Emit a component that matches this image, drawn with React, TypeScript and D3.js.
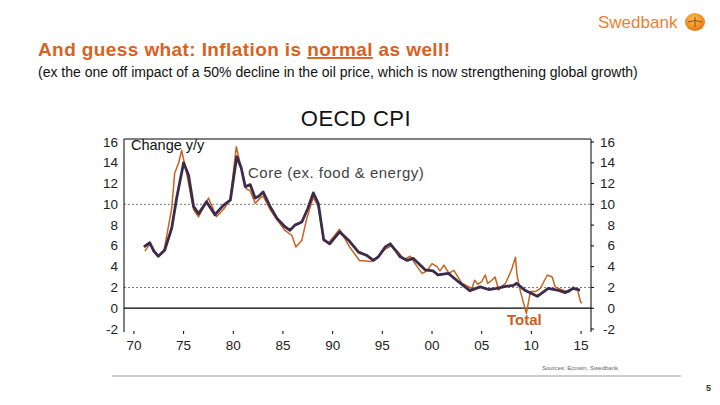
import * as d3 from "d3";
import React from "react";

// OECD CPI, change y/y
const coreYears = [
  1971.0, 1971.6, 1972.0, 1972.45, 1973.1, 1973.8, 1974.3, 1975.0, 1975.5, 1976.0,
  1976.5, 1977.3, 1978.15, 1979.0, 1979.7, 1980.35, 1980.8, 1981.2, 1981.7, 1982.2,
  1982.6, 1983.0, 1983.7, 1984.4, 1985.2, 1985.7, 1986.2, 1986.9, 1987.5, 1988.05,
  1988.55, 1989.1, 1989.7, 1990.7, 1991.6, 1992.6, 1993.4, 1994.1, 1994.6, 1995.3,
  1995.8, 1996.3, 1996.8, 1997.5, 1998.1, 1998.8, 1999.3, 2000.1, 2000.6, 2001.65,
  2002.65, 2003.8, 2004.85, 2005.7, 2006.5, 2007.4, 2008.2, 2008.5, 2009.4, 2010.6,
  2011.7, 2012.6, 2013.4, 2014.2, 2014.9,
];
const coreValues = [
  5.9, 6.3, 5.5, 5.0, 5.6, 7.7, 10.6, 14.0, 12.8, 9.8,
  9.1, 10.25, 9.0, 9.9, 10.4, 14.6, 13.5, 11.7, 11.9, 10.6,
  10.8, 11.2, 9.8, 8.65, 7.85, 7.5, 8.0, 8.3, 9.6, 11.1,
  10.1, 6.6, 6.2, 7.35, 6.55, 5.4, 5.1, 4.6, 4.95, 5.9,
  6.2, 5.6, 4.95, 4.6, 4.8, 4.15, 3.7, 3.6, 3.2, 3.35,
  2.55, 1.7, 2.05, 1.8, 1.9, 2.1, 2.2, 2.4, 1.7, 1.15,
  1.9, 1.75, 1.5, 1.9, 1.75,
];

const totalYears = [
  1971.1, 1971.6, 1972.45, 1973.0, 1973.4, 1973.8, 1974.1, 1974.5, 1974.8, 1975.3,
  1976.0, 1976.5, 1977.5, 1978.3, 1979.0, 1979.7, 1980.3, 1980.8, 1981.3, 1981.7,
  1982.2, 1982.6, 1983.0, 1983.7, 1984.4, 1985.2, 1985.9, 1986.3, 1986.9, 1987.4,
  1988.05, 1988.55, 1989.1, 1989.6, 1990.7, 1991.7, 1992.7, 1993.9, 1994.6, 1995.3,
  1995.9, 1996.6, 1997.2, 1997.8, 1998.5, 1999.0, 1999.5, 2000.0, 2000.5, 2000.8,
  2001.2, 2001.7, 2002.2, 2003.0, 2004.0, 2004.3, 2004.6, 2005.0, 2005.35, 2005.6,
  2005.85, 2006.35, 2006.7, 2007.0, 2007.4, 2008.0, 2008.4, 2008.55, 2008.9, 2009.5,
  2009.9, 2010.4, 2010.9, 2011.6, 2012.1, 2012.4, 2013.1, 2013.8, 2014.2, 2014.65,
  2014.95, 2015.1,
];
const totalValues = [
  5.5, 6.2, 5.0, 5.4, 7.5, 9.6, 13.0, 14.0, 15.2, 13.0,
  9.5, 8.8, 10.6, 8.8, 9.5, 10.5, 15.55, 13.5, 11.5, 11.3,
  10.1, 10.5, 10.8, 9.5, 8.5, 7.5, 7.0, 5.9, 6.55, 8.65,
  10.7, 9.8, 6.5, 6.3, 7.6, 5.9, 4.6, 4.5, 5.0, 5.7,
  6.0, 5.4, 4.7, 5.0, 4.0, 3.35, 3.6, 4.3, 4.0, 3.6,
  4.15, 3.35, 3.65, 2.4, 1.9, 2.7, 2.3, 2.55, 3.2, 2.4,
  2.55, 3.0, 1.75, 2.1, 2.4, 3.7, 4.9, 3.2, 1.6, -0.5,
  1.6, 1.6, 1.9, 3.2, 3.0, 2.05, 1.75, 1.55, 2.05, 1.75,
  0.6, 0.5,
];

const yTicks = [-2, 0, 2, 4, 6, 8, 10, 12, 14, 16];
const xTicks = [1970, 1975, 1980, 1985, 1990, 1995, 2000, 2005, 2010, 2015];
const gridValues = [10, 2];

const ORANGE = "#d9621c";
const TOTAL = "#c8621e";
const CORE = "#3c2c4c";
const FONT = "'Liberation Sans', Arial, sans-serif";

export default function App() {
  const left = 124;
  const right = 591;
  const top = 139;
  const x = d3.scaleLinear().domain([1969, 2016]).range([left, right]);
  const y = d3.scaleLinear().domain([-2, 16]).range([329, 142]);
  const axisBottom = 332;

  const line = d3
    .line<[number, number]>()
    .x((d) => x(d[0]))
    .y((d) => y(d[1]));

  const core = coreYears.map((yr, i) => [yr, coreValues[i]] as [number, number]);
  const total = totalYears.map((yr, i) => [yr, totalValues[i]] as [number, number]);

  return (
    <svg
      width={720}
      height={405}
      style={{ position: "absolute", left: 0, top: 0, background: "white" }}
      fontFamily={FONT}
    >
      <defs>
        <radialGradient id="logo" cx="45%" cy="35%" r="70%">
          <stop offset="0%" stopColor="#fbbf5a" />
          <stop offset="60%" stopColor="#f29220" />
          <stop offset="100%" stopColor="#d8701a" />
        </radialGradient>
      </defs>

      {/* header */}
      <text x={598} y={28} fontSize={17} fill="#ec7f30">
        Swedbank
      </text>
      <ellipse cx={695} cy={22} rx={10} ry={9} fill="url(#logo)" />
      <path d="M688,22 Q695,19 702,22 M695,17 L695,27" stroke="#8a4a1a" strokeWidth={1} fill="none" />
      <text x={38} y={56} fontSize={19} fontWeight="bold" fill={ORANGE} letterSpacing={0.4}>
        And guess what: Inflation is{" "}
        <tspan textDecoration="underline">normal</tspan> as well!
      </text>
      <text x={38} y={77} fontSize={14} fill="#111">
        (ex the one off impact of a 50% decline in the oil price, which is now strengthening global growth)
      </text>

      {/* chart title */}
      <text x={356} y={126} fontSize={22} textAnchor="middle" fill="#111" letterSpacing={0.5}>
        OECD CPI
      </text>

      {/* grid lines */}
      {gridValues.map((v) => (
        <line
          key={v}
          x1={left}
          x2={right}
          y1={y(v)}
          y2={y(v)}
          stroke="#777"
          strokeWidth={1}
          strokeDasharray="2,2"
        />
      ))}
      <line x1={left} x2={right} y1={y(0)} y2={y(0)} stroke="#000" strokeWidth={1.2} />

      {/* frame */}
      <line x1={left} x2={right} y1={top} y2={top} stroke="#000" strokeWidth={1} />
      <line x1={left} x2={left} y1={top} y2={axisBottom} stroke="#000" strokeWidth={1} />
      <line x1={right} x2={right} y1={top} y2={axisBottom} stroke="#000" strokeWidth={1} />

      {/* y axes */}
      {yTicks.map((t) => (
        <g key={t}>
          <text x={118} y={y(t) + 4.5} fontSize={13.5} textAnchor="end" fill="#222">
            {t}
          </text>
          <line x1={right} x2={right + 3} y1={y(t)} y2={y(t)} stroke="#000" />
          <text x={615} y={y(t) + 4.5} fontSize={13.5} textAnchor="end" fill="#222">
            {t}
          </text>
        </g>
      ))}

      {/* x axis */}
      {xTicks.map((t) => (
        <g key={t}>
          <line x1={x(t)} x2={x(t)} y1={331} y2={334} stroke="#000" />
          <text x={x(t)} y={350} fontSize={13.5} textAnchor="middle" fill="#222">
            {String(t % 100).padStart(2, "0")}
          </text>
        </g>
      ))}

      {/* series */}
      <path d={line(total) ?? ""} fill="none" stroke={TOTAL} strokeWidth={1.5} strokeLinejoin="round" />
      <path d={line(core) ?? ""} fill="none" stroke={CORE} strokeWidth={2.8} strokeLinejoin="round" />

      {/* labels */}
      <text x={131} y={150} fontSize={14.5} fill="#111">
        Change y/y
      </text>
      <text x={248} y={178} fontSize={15} fill="#444" letterSpacing={0.5}>
        Core (ex. food &amp; energy)
      </text>
      <text x={507} y={325} fontSize={15} fill={TOTAL} fontWeight="bold">
        Total
      </text>

      {/* footer */}
      <text x={542} y={370} fontSize={6} fill="#666">
        Sources: Ecowin, Swedbank
      </text>
      <line x1={112} x2={681} y1={376} y2={376} stroke="#999" strokeWidth={1} />
      <text x={706} y={391} fontSize={9} fontWeight="bold" fill="#333">
        5
      </text>
    </svg>
  );
}
